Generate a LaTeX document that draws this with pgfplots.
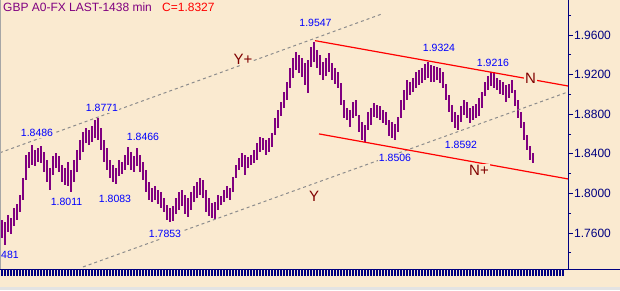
\documentclass[border=0pt]{standalone}
\usepackage{fontspec}
\setmainfont{Liberation Sans}
\usepackage{pgfplots}
\usepackage{pgfplotstable}
\pgfplotsset{compat=1.18}
\definecolor{bgc}{HTML}{FAEAD0}
\definecolor{navyc}{HTML}{000080}
\definecolor{barc}{HTML}{800080}
\definecolor{annc}{HTML}{0000FF}
\definecolor{lblc}{HTML}{800000}
\definecolor{dashc}{HTML}{8C8C8C}
\pgfplotstableread{
i lo hi
0 1.7550 1.7732
1 1.7480 1.7712
2 1.7611 1.7783
3 1.7591 1.7752
4 1.7671 1.7853
5 1.7732 1.7894
6 1.7813 1.7985
7 1.7934 1.8156
8 1.8136 1.8389
9 1.8257 1.8419
10 1.8288 1.8490
11 1.8277 1.8439
12 1.8318 1.8459
13 1.8308 1.8479
14 1.8217 1.8419
15 1.8116 1.8338
16 1.8035 1.8257
17 1.8187 1.8378
18 1.8257 1.8409
19 1.8217 1.8378
20 1.8116 1.8288
21 1.8086 1.8257
22 1.8075 1.8318
23 1.8015 1.8237
24 1.8116 1.8338
25 1.8217 1.8439
26 1.8338 1.8540
27 1.8419 1.8621
28 1.8510 1.8661
29 1.8490 1.8641
30 1.8520 1.8681
31 1.8560 1.8742
32 1.8540 1.8762
33 1.8439 1.8661
34 1.8318 1.8540
35 1.8237 1.8459
36 1.8156 1.8338
37 1.8116 1.8288
38 1.8096 1.8257
39 1.8176 1.8338
40 1.8197 1.8318
41 1.8237 1.8389
42 1.8288 1.8469
43 1.8237 1.8419
44 1.8217 1.8378
45 1.8277 1.8459
46 1.8217 1.8389
47 1.8136 1.8318
48 1.8015 1.8237
49 1.7934 1.8116
50 1.7914 1.8055
51 1.7934 1.8075
52 1.7894 1.8035
53 1.7853 1.8015
54 1.7813 1.7954
55 1.7732 1.7884
56 1.7712 1.7853
57 1.7722 1.7873
58 1.7793 1.7954
59 1.7833 1.8015
60 1.7873 1.8035
61 1.7793 1.7985
62 1.7762 1.7954
63 1.7833 1.8015
64 1.7914 1.8075
65 1.7954 1.8116
66 1.7985 1.8156
67 1.7954 1.8136
68 1.7813 1.8035
69 1.7772 1.7954
70 1.7752 1.7904
71 1.7742 1.7914
72 1.7833 1.7985
73 1.7884 1.7974
74 1.7914 1.8035
75 1.7954 1.8075
76 1.7934 1.8055
77 1.8015 1.8166
78 1.8156 1.8288
79 1.8237 1.8358
80 1.8267 1.8409
81 1.8187 1.8389
82 1.8257 1.8368
83 1.8288 1.8389
84 1.8308 1.8439
85 1.8338 1.8510
86 1.8419 1.8570
87 1.8439 1.8560
88 1.8389 1.8540
89 1.8419 1.8560
90 1.8469 1.8611
91 1.8591 1.8762
92 1.8661 1.8843
93 1.8782 1.8924
94 1.8863 1.9025
95 1.8944 1.9126
96 1.9065 1.9267
97 1.9166 1.9368
98 1.9247 1.9429
99 1.9217 1.9399
100 1.9176 1.9368
101 1.9096 1.9318
102 1.9015 1.9348
103 1.9277 1.9479
104 1.9328 1.9530
105 1.9267 1.9449
106 1.9197 1.9399
107 1.9146 1.9328
108 1.9186 1.9368
109 1.9227 1.9419
110 1.9146 1.9318
111 1.9106 1.9267
112 1.9065 1.9227
113 1.8894 1.9116
114 1.8762 1.8944
115 1.8742 1.8863
116 1.8671 1.8843
117 1.8762 1.8924
118 1.8782 1.8944
119 1.8621 1.8793
120 1.8540 1.8722
121 1.8520 1.8692
122 1.8641 1.8823
123 1.8692 1.8863
124 1.8772 1.8914
125 1.8762 1.8894
126 1.8742 1.8883
127 1.8712 1.8843
128 1.8692 1.8823
129 1.8580 1.8742
130 1.8560 1.8722
131 1.8540 1.8702
132 1.8621 1.8772
133 1.8762 1.8944
134 1.8843 1.9045
135 1.8944 1.9146
136 1.8995 1.9126
137 1.9025 1.9166
138 1.9065 1.9227
139 1.9096 1.9247
140 1.9116 1.9267
141 1.9146 1.9308
142 1.9166 1.9328
143 1.9126 1.9298
144 1.9126 1.9287
145 1.9146 1.9277
146 1.9116 1.9267
147 1.9065 1.9227
148 1.8944 1.9106
149 1.8823 1.8995
150 1.8722 1.8894
151 1.8661 1.8823
152 1.8641 1.8793
153 1.8722 1.8883
154 1.8793 1.8944
155 1.8762 1.8924
156 1.8712 1.8863
157 1.8742 1.8883
158 1.8762 1.8904
159 1.8782 1.8964
160 1.8863 1.9025
161 1.8984 1.9126
162 1.9045 1.9186
163 1.9085 1.9227
164 1.9065 1.9217
165 1.9045 1.9166
166 1.9005 1.9146
167 1.8995 1.9126
168 1.8924 1.9096
169 1.8964 1.9106
170 1.9015 1.9146
171 1.8883 1.9045
172 1.8762 1.8944
173 1.8661 1.8823
174 1.8540 1.8722
175 1.8439 1.8591
176 1.8338 1.8479
177 1.8308 1.8409
}\prices
\begin{document}
\begin{tikzpicture}
\path[use as bounding box, fill=bgc] (0,-21pt) rectangle (620pt,269pt);
\fill[gray!22] (0,-21pt) rectangle (620pt,-17.5pt);
\begin{axis}[
  at={(0,0)}, anchor=south west,
  scale only axis, width=568pt, height=269pt,
  xmin=-0.6667, xmax=188.6667, ymin=1.723636, ymax=1.995354,
  axis x line*=bottom, axis y line*=right,
  axis line style={draw=navyc, line width=1pt},
  tick align=outside,
  ytick={1.76,1.80,1.84,1.88,1.92,1.96},
  minor ytick={1.74,1.78,1.82,1.86,1.90,1.94,1.98},
  xtick={0,...,187}, xticklabel=\empty,
  major tick length=5pt, minor tick length=3pt,
  ytick style={navyc, line width=1pt},
  minor tick style={navyc, line width=1pt},
  xtick style={navyc, line width=1.6pt, /pgfplots/major tick length=6.5pt},
  scaled y ticks=false,
  yticklabel style={text=navyc, font=\fontsize{12}{14}\selectfont, inner sep=1pt,
    /pgf/number format/fixed, /pgf/number format/fixed zerofill,
    /pgf/number format/precision=4, /pgf/number format/assume math mode=true},
]
% high-low bars: purple comb up to the high, then background comb up to the low
\addplot[ycomb, no markers, barc, line width=2.6pt, line cap=butt]
  table[x=i, y=hi] {\prices};
\addplot[ycomb, no markers, bgc, line width=2.9pt, line cap=butt]
  table[x=i, y=lo] {\prices};
% channel lines
\addplot[dashc, dash pattern=on 3pt off 3pt, line width=1pt] coordinates {(-0.667,1.8411) (126.67,1.9813)};
\addplot[dashc, dash pattern=on 3pt off 3pt, line width=1pt] coordinates {(27,1.7257) (188.67,1.9025)};
\addplot[red, line width=1.2pt] coordinates {(104.33,1.9543) (188.67,1.9085)};
\addplot[red, line width=1.2pt] coordinates {(105.67,1.8601) (188.67,1.8146)};
% annotations
\tikzset{ann/.style={text=annc, fill=bgc, inner sep=1pt, font=\fontsize{10.5}{12}\selectfont},
         lbl/.style={text=lblc, fill=bgc, inner sep=1pt, font=\fontsize{15}{17}\selectfont}}
\node[ann] at (axis cs:104.5,1.9722) {1.9547};
\node[ann] at (axis cs:33.33,1.8863) {1.8771};
\node[ann] at (axis cs:11.67,1.8611) {1.8486};
\node[ann] at (axis cs:47,1.8570) {1.8466};
\node[ann] at (axis cs:21.5,1.7914) {1.8011};
\node[ann] at (axis cs:37.67,1.7944) {1.8083};
\node[ann] at (axis cs:54.33,1.7591) {1.7853};
\node[ann, anchor=west, inner sep=0pt] at (axis cs:-0.333,1.7379) {481};
\node[ann] at (axis cs:145.67,1.9469) {1.9324};
\node[ann] at (axis cs:163.67,1.9318) {1.9216};
\node[ann] at (axis cs:131,1.8358) {1.8506};
\node[ann] at (axis cs:153,1.8490) {1.8592};
\node[lbl] at (axis cs:80.33,1.9358) {Y+};
\node[lbl] at (axis cs:104,1.7974) {Y};
\node[lbl] at (axis cs:176.17,1.9166) {N};
\node[lbl] at (axis cs:159,1.8237) {N+};
\node[anchor=west, inner sep=0pt, text=barc, font=\fontsize{12}{14}\selectfont] at (axis cs:0.333,1.9878) {GBP A0-FX LAST-1438 min};
\node[anchor=west, inner sep=0pt, text=red, font=\fontsize{12}{14}\selectfont] at (axis cs:53.33,1.9878) {C=1.8327};
\end{axis}
\draw[navyc, line width=1pt] (568pt,0) -- (620pt,0);
\draw[gray!70, line width=1pt] (0.5pt,0) -- (0.5pt,269pt);
\end{tikzpicture}
\end{document}
